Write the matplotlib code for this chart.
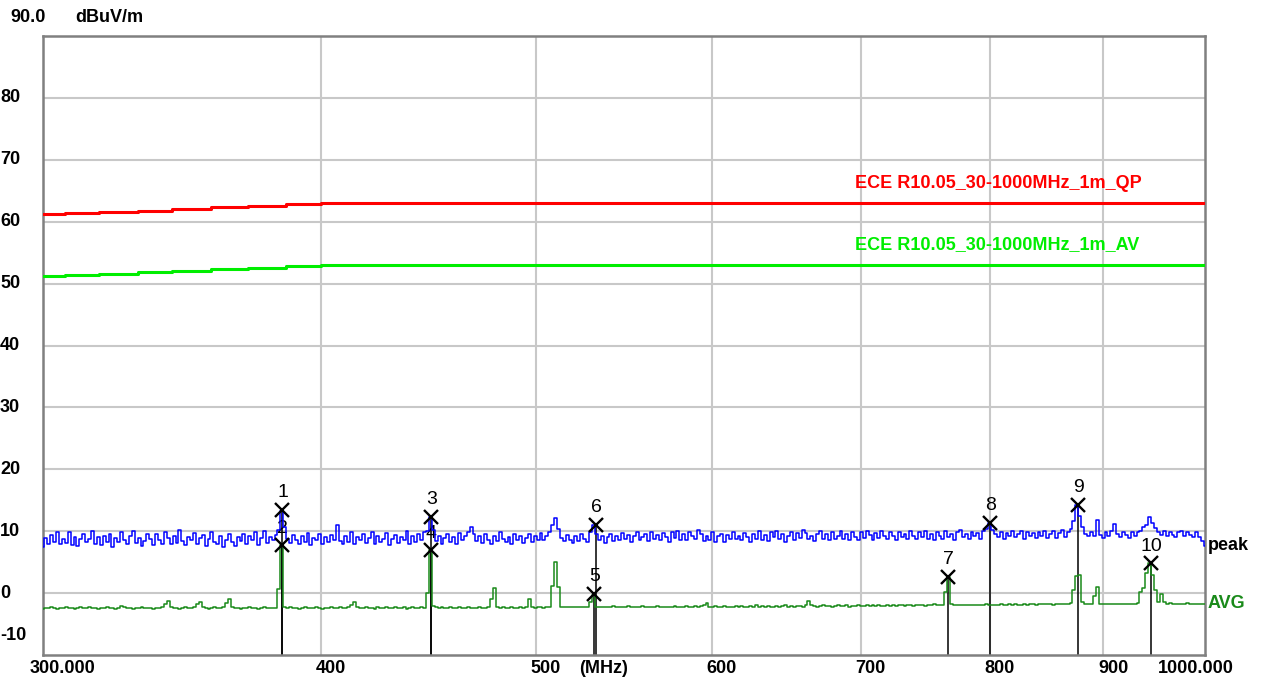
import matplotlib
matplotlib.use("Agg")
import matplotlib.pyplot as plt
import numpy as np
from matplotlib.ticker import NullLocator

# ---------------- data ----------------
grid_freqs = [400, 500, 600, 700, 800, 900]
grid_levels = [0, 10, 20, 30, 40, 50, 60, 70, 80]
x_tick_labels = ["400", "500", "600", "700", "800", "900"]
y_tick_values = [80, 70, 60, 50, 40, 30, 20, 10, 0, -10]

# limit lines (stepped)
limit_freq = [300, 307, 318, 331, 343, 357, 371, 386, 400, 1000]
qp_limit = [61.2, 61.4, 61.6, 61.8, 62.1, 62.3, 62.5, 62.8, 63.0, 63.0]
av_limit = [51.2, 51.4, 51.6, 51.8, 52.1, 52.3, 52.5, 52.8, 53.0, 53.0]

# sweep grid: 400 log-spaced points from 300 MHz to 1000 MHz
n_points = 400
sweep_freq = np.geomspace(300, 1000, n_points)

peak_trace = [
    7.4, 8.9, 8.0, 9.4, 8.3, 9.8, 7.9, 8.8, 8.1, 9.9, 7.8, 9.1, 7.6, 8.7, 9.6, 8.2, 8.8, 10.1, 8.0, 9.0,
    7.7, 9.3, 8.3, 9.5, 7.5, 8.9, 8.2, 9.8, 8.6, 7.9, 9.2, 10.0, 8.1, 8.9, 7.6, 8.4, 9.6, 8.7, 7.8, 9.5,
    8.6, 8.0, 9.9, 8.9, 7.9, 9.3, 8.1, 10.2, 8.4, 7.7, 9.1, 8.5, 9.7, 8.0, 8.9, 9.4, 7.6, 8.7, 9.8, 8.3,
    7.9, 9.2, 7.4, 8.6, 9.6, 8.2, 7.6, 9.0, 8.4, 9.5, 8.0, 9.3, 8.6, 9.9, 7.7, 8.9, 10.1, 8.1, 9.1, 8.5,
    9.4, 10.2, 13.3, 10.6, 8.8, 8.1, 9.4, 8.6, 7.9, 9.3, 8.3, 9.7, 7.8, 8.9, 8.5, 9.6, 8.0, 9.1, 8.3, 9.4,
    8.6, 11.0, 8.4, 7.9, 9.3, 8.3, 9.8, 8.0, 9.1, 8.5, 9.5, 8.1, 8.9, 9.9, 7.9, 9.3, 8.3, 8.7, 9.7, 7.8,
    8.8, 9.4, 8.1, 9.1, 8.5, 10.0, 8.0, 9.3, 8.3, 9.6, 8.6, 9.8, 10.1, 12.3, 10.2, 8.4, 9.3, 8.0, 8.9, 9.5,
    8.2, 9.1, 7.9, 9.7, 8.6, 9.3, 9.9, 10.7, 9.5, 8.4, 9.2, 8.1, 9.5, 8.6, 8.0, 9.3, 8.4, 9.8, 8.8, 8.2,
    9.1, 8.0, 9.5, 8.6, 9.3, 8.1, 8.9, 9.6, 8.3, 9.2, 8.5, 9.7, 8.6, 9.3, 9.8, 11.0, 12.2, 10.3, 8.9, 8.4,
    9.4, 8.6, 8.1, 9.3, 8.4, 9.6, 8.8, 8.2, 9.8, 11.0, 9.6, 8.5, 9.3, 8.1, 9.1, 9.5, 8.4, 9.3, 8.6, 9.7,
    8.7, 9.4, 8.2, 9.3, 9.8, 8.5, 9.0, 9.6, 8.4, 9.9, 8.7, 9.4, 8.5, 9.7, 9.1, 8.3, 9.8, 8.9, 10.1, 8.6,
    9.5, 8.5, 9.9, 9.2, 8.7, 10.2, 9.6, 8.4, 9.3, 8.6, 9.8, 8.3, 9.2, 9.6, 8.2, 9.4, 8.7, 9.9, 8.8, 9.3,
    8.5, 9.7, 9.0, 8.3, 9.6, 8.8, 10.0, 8.6, 9.4, 8.4, 9.8, 9.0, 10.1, 8.7, 9.5, 8.3, 9.3, 9.9, 8.6, 9.7,
    8.9, 10.2, 9.7, 8.7, 9.3, 8.4, 9.6, 10.0, 8.8, 9.5, 8.6, 9.8, 8.7, 9.3, 10.1, 8.8, 9.6, 8.5, 9.9, 9.1,
    8.6, 9.8, 8.9, 10.0, 9.4, 8.5, 9.7, 8.9, 10.1, 9.2, 8.7, 9.8, 9.3, 8.5, 9.9, 9.1, 9.6, 8.8, 10.0, 9.3,
    8.7, 9.8, 9.1, 10.1, 8.8, 9.6, 8.6, 9.9, 9.3, 8.8, 10.0, 9.1, 9.6, 8.6, 9.8, 10.2, 9.0, 9.6, 8.8, 9.9,
    9.2, 9.7, 8.8, 10.1, 10.3, 11.3, 10.2, 9.5, 9.0, 9.9, 8.8, 9.7, 9.2, 10.0, 9.0, 9.6, 10.1, 8.8, 9.8, 9.2,
    9.7, 8.9, 9.9, 9.2, 10.1, 8.9, 9.6, 10.0, 8.9, 9.7, 10.2, 9.1, 9.8, 10.3, 11.6, 14.3, 12.4, 10.6, 9.5, 9.2,
    9.9, 9.2, 11.8, 9.4, 8.9, 9.8, 9.2, 10.0, 11.2, 9.6, 9.0, 9.9, 9.4, 8.9, 9.8, 9.2, 9.9, 10.1, 10.6, 11.0,
    12.3, 11.3, 10.5, 9.9, 9.4, 10.0, 9.2, 9.9, 9.4, 9.1, 9.8, 10.0, 9.2, 9.9, 9.4, 9.1, 9.8, 9.0, 8.4, 7.6,
]

avg_trace = [
    -2.5, -2.4, -2.4, -2.3, -2.4, -2.5, -2.4, -2.4, -2.3, -2.4, -2.4, -2.5, -2.4, -2.3, -2.4, -2.4, -2.2, -2.4, -2.4, -2.5,
    -2.4, -2.4, -2.3, -2.4, -2.4, -2.5, -2.4, -2.1, -2.3, -2.4, -2.4, -2.5, -2.4, -2.4, -2.3, -2.4, -2.4, -2.4, -2.5, -2.4,
    -2.4, -2.3, -1.7, -1.3, -2.3, -2.4, -2.4, -2.5, -2.4, -2.3, -2.4, -2.4, -2.3, -1.8, -1.4, -2.2, -2.4, -2.5, -2.4, -2.3,
    -2.4, -2.4, -2.3, -1.6, -0.9, -2.3, -2.4, -2.4, -2.5, -2.4, -2.4, -2.3, -2.4, -2.4, -2.5, -2.4, -2.3, -2.4, -2.4, -2.4,
    -2.4, 0.6, 7.7, -2.2, -2.4, -2.3, -2.4, -2.4, -2.5, -2.4, -2.3, -2.4, -2.4, -2.4, -2.3, -2.4, -2.5, -2.4, -2.4, -2.3,
    -2.4, -2.4, -2.3, -2.4, -2.4, -2.3, -2.0, -1.5, -2.2, -2.4, -2.4, -2.3, -2.4, -2.4, -2.5, -2.3, -2.4, -2.4, -2.3, -2.4,
    -2.4, -2.3, -2.4, -2.4, -2.3, -2.5, -2.4, -2.3, -2.4, -2.4, -2.3, -2.4, 0.0, 6.9, -2.1, -2.3, -2.4, -2.3, -2.4, -2.4,
    -2.3, -2.4, -2.4, -2.3, -2.4, -2.4, -2.3, -2.4, -2.4, -2.4, -2.3, -2.4, -2.4, -2.3, -1.0, 0.8, -2.2, -2.4, -2.3, -2.4,
    -2.4, -2.3, -2.4, -2.4, -2.3, -2.4, -2.2, -1.0, -2.3, -2.4, -2.3, -2.3, -2.4, -2.3, -2.3, 1.2, 5.1, 1.0, -2.2, -2.3,
    -2.3, -2.3, -2.3, -2.2, -2.3, -2.3, -2.3, -2.2, -1.5, -0.3, -2.2, -2.3, -2.2, -2.3, -2.2, -2.3, -2.1, -2.3, -2.2, -2.2,
    -2.3, -2.1, -2.2, -2.2, -2.3, -2.2, -2.1, -2.2, -2.2, -2.3, -2.2, -2.1, -2.2, -2.2, -2.3, -2.2, -2.2, -2.1, -2.2, -2.2,
    -2.2, -2.1, -2.2, -2.2, -2.1, -2.2, -2.1, -1.9, -1.6, -2.2, -2.3, -2.1, -2.2, -2.2, -2.1, -2.2, -2.2, -2.3, -2.1, -2.2,
    -2.1, -2.2, -2.2, -2.1, -2.2, -2.0, -2.2, -2.1, -2.2, -2.1, -2.2, -2.2, -2.1, -2.2, -2.1, -2.0, -2.2, -2.1, -2.2, -2.1,
    -2.1, -2.2, -2.0, -1.2, -2.0, -2.1, -2.2, -2.1, -2.0, -2.1, -2.1, -2.2, -2.1, -2.0, -2.1, -2.1, -2.0, -2.2, -2.1, -2.1,
    -2.0, -2.1, -2.1, -2.0, -2.1, -1.9, -2.1, -2.0, -2.1, -2.1, -2.0, -2.1, -2.0, -2.1, -2.0, -1.9, -2.1, -2.0, -2.0, -2.1,
    -2.0, -2.0, -1.9, -2.1, -2.0, -2.0, -1.8, -2.0, -2.0, -1.9, 0.2, 2.6, -1.8, -2.0, -1.9, -2.0, -1.9, -2.0, -1.9, -1.9,
    -1.9, -2.0, -1.9, -1.9, -1.8, -1.9, -1.9, -2.0, -1.9, -1.8, -1.9, -1.9, -1.8, -1.9, -1.8, -1.9, -1.9, -1.7, -1.9, -1.8,
    -1.8, -1.9, -1.8, -1.8, -1.7, -1.8, -1.8, -1.9, -1.8, -1.7, -1.8, -1.8, -1.7, -1.6, 0.5, 2.7, 2.9, -1.5, -1.7, -1.8,
    -1.8, -0.5, 1.0, -1.7, -1.8, -1.7, -1.8, -1.7, -1.8, -1.7, -1.8, -1.7, -1.8, -1.7, -1.8, -1.7, -1.6, 0.1, 0.8, 3.3,
    4.8, 2.9, 0.5, -1.4, -0.1, -1.5, -1.7, -1.6, -1.7, -1.7, -1.8, -1.7, -1.7, -1.6, -1.7, -1.7, -1.8, -1.7, -1.7, -1.8,
]

marker_ids = ["1", "2", "3", "4", "5", "6", "7", "8", "9", "10"]
marker_freq = [384.2, 384.2, 448.3, 448.3, 531.0, 532.0, 766.4, 800.3, 876.9, 945.6]
marker_level = [13.4, 7.7, 12.3, 6.9, -0.2, 11.0, 2.6, 11.3, 14.3, 4.8]
marker_hidden = [False, True, False, True, False, False, False, False, False, False]

# ---------------- style ----------------
FONT = "Liberation Sans"
plt.rcParams["font.family"] = [FONT, "DejaVu Sans"]
GRID = "#c8c8c8"
FRAME = "#808080"
RED = "#ff0000"
LGREEN = "#00ee00"
DGREEN = "#1a8a1a"
BLUE = "#0000ff"

fig = plt.figure(figsize=(12.64, 6.81), dpi=100)
W, H = 1264, 681
x0, x1, y0, y1 = 43, 1205, 36, 655
ax = fig.add_axes([x0 / W, 1 - y1 / H, (x1 - x0) / W, (y1 - y0) / H])
ax.set_xscale("log")
ax.set_xlim(300, 1000)
ax.set_ylim(-10, 90)
ax.xaxis.set_minor_locator(NullLocator())
ax.yaxis.set_minor_locator(NullLocator())
ax.set_xticks(grid_freqs)
ax.set_yticks(grid_levels)
ax.set_xticklabels([])
ax.set_yticklabels([])
ax.tick_params(length=0)
ax.grid(True, color=GRID, lw=1.5)
ax.set_axisbelow(True)
for s in ax.spines.values():
    s.set_color(FRAME)
    s.set_linewidth(1.8)

# limit lines
ax.plot(limit_freq, qp_limit, drawstyle="steps-post", color=RED, lw=2.2, zorder=3)
ax.plot(limit_freq, av_limit, drawstyle="steps-post", color=LGREEN, lw=2.2, zorder=3)

# marker vertical lines (below traces)
for f, lv in zip(marker_freq, marker_level):
    ax.plot([f, f], [-10, lv], color="black", lw=1.1, zorder=2)

# traces
ax.plot(sweep_freq, avg_trace, drawstyle="steps-mid", color=DGREEN, lw=1.1, zorder=4)
ax.plot(sweep_freq, peak_trace, drawstyle="steps-mid", color=BLUE, lw=1.1, zorder=5)

# marker X and labels
for mid, f, lv, hid in zip(marker_ids, marker_freq, marker_level, marker_hidden):
    ax.plot([f], [lv], marker="x", ms=9.5, mew=1.7, color="black", zorder=6)
    ax.annotate(mid, xy=(f, lv), xytext=(0.5, 12.5), textcoords="offset points",
                ha="center", va="center", fontsize=14, color="black",
                zorder=4.5 if hid else 7, annotation_clip=False)

# limit labels
ax.annotate("ECE R10.05_30-1000MHz_1m_QP", xy=(696, 66.2), ha="left", va="center",
            fontsize=13, fontweight="bold", color=RED)
ax.annotate("ECE R10.05_30-1000MHz_1m_AV", xy=(696, 56.3), ha="left", va="center",
            fontsize=13, fontweight="bold", color=LGREEN)

# trace names on the right
ax.annotate("peak", xy=(1.002, 7.7), xycoords=("axes fraction", "data"), ha="left",
            va="center", fontsize=13, fontweight="bold", color="black", annotation_clip=False)
ax.annotate("AVG", xy=(1.002, -1.7), xycoords=("axes fraction", "data"), ha="left",
            va="center", fontsize=13, fontweight="bold", color=DGREEN, annotation_clip=False)

# y tick labels
for v in y_tick_values:
    dy = 13.7 if v == -10 else 0
    ax.annotate(str(v), xy=(0.0, v), xycoords=("figure fraction", "data"),
                xytext=(0, dy), textcoords="offset points", ha="left", va="center",
                fontsize=13, fontweight="bold", annotation_clip=False)
fig.text(10 / W, 1 - 18 / H, "90.0", ha="left", va="center", fontsize=13, fontweight="bold")
fig.text(75 / W, 1 - 18 / H, "dBuV/m", ha="left", va="center", fontsize=13, fontweight="bold")

# x tick labels
for f, lab in zip(grid_freqs, x_tick_labels):
    ax.annotate(lab, xy=(f, 0), xycoords=("data", "axes fraction"), xytext=(7.2, -9.4),
                textcoords="offset points", ha="center", va="center", fontsize=13,
                fontweight="bold", annotation_clip=False)
ax.annotate("300.000", xy=(300, 0), xycoords=("data", "axes fraction"), xytext=(13.7, -9.4),
            textcoords="offset points", ha="center", va="center", fontsize=13,
            fontweight="bold", annotation_clip=False)
ax.annotate("1000.000", xy=(1000, 0), xycoords=("data", "axes fraction"), xytext=(-6.5, -9.4),
            textcoords="offset points", ha="center", va="center", fontsize=13,
            fontweight="bold", annotation_clip=False)
ax.annotate("(MHz)", xy=(0.4824, 0), xycoords="axes fraction", xytext=(0, -9.4),
            textcoords="offset points", ha="center", va="center", fontsize=13,
            fontweight="bold", annotation_clip=False)

fig.savefig("out.png", dpi=100)
